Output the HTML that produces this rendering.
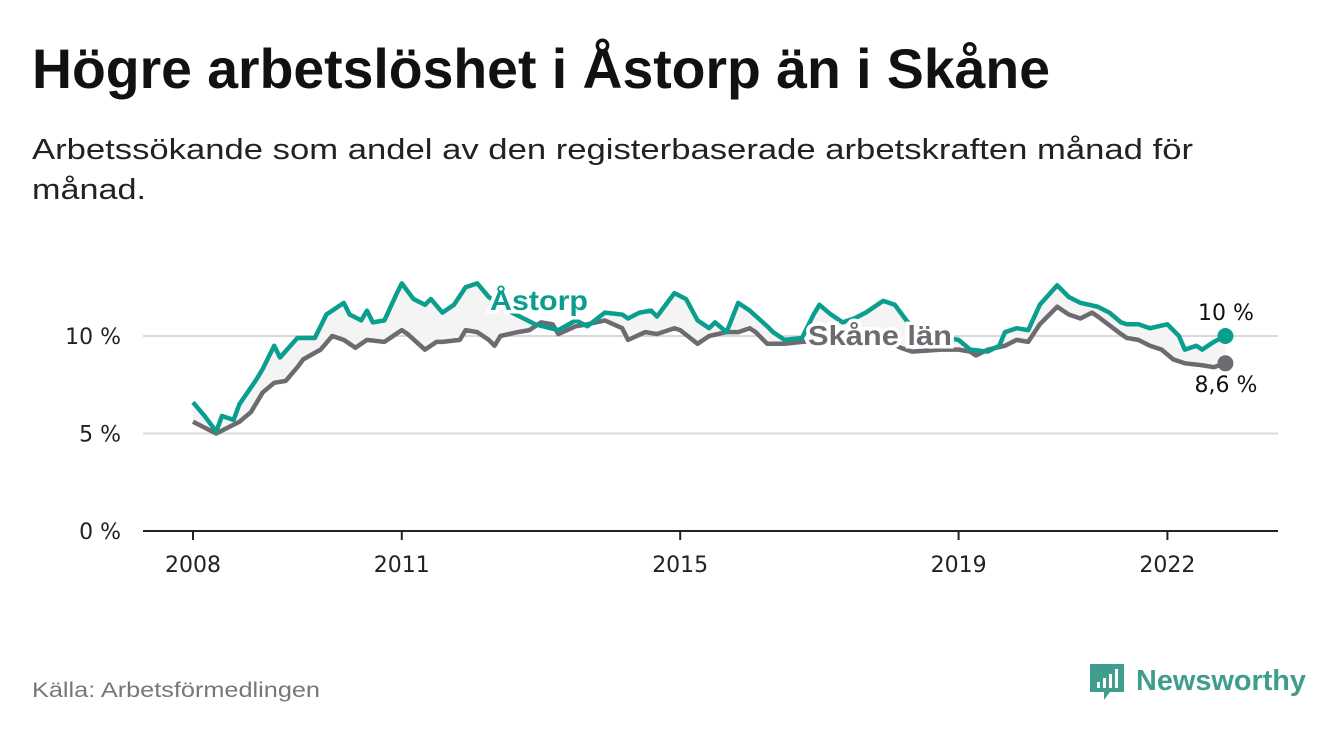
<!DOCTYPE html>
<html><head><meta charset="utf-8"><style>
body{margin:0;width:1340px;height:734px;background:#fff;overflow:hidden;font-family:"Liberation Sans",sans-serif;}
svg{position:absolute;left:0;top:0}
</style></head><body>
<svg width="1340" height="734">
<text x="32" y="88" font-size="56" font-weight="bold" fill="#111" textLength="1018" lengthAdjust="spacingAndGlyphs">Högre arbetslöshet i Åstorp än i Skåne</text>
<text x="32" y="159" font-size="29" fill="#222" textLength="1161" lengthAdjust="spacingAndGlyphs">Arbetssökande som andel av den registerbaserade arbetskraften månad för</text>
<text x="32" y="199" font-size="29" fill="#222" textLength="114" lengthAdjust="spacingAndGlyphs">månad.</text>
<g id="grid"></g>
<g id="plot"></g>
<text x="32" y="697" font-size="21" fill="#777" textLength="288" lengthAdjust="spacingAndGlyphs">Källa: Arbetsförmedlingen</text>
<g>
<path d="M1090 664 h34 v28 h-14 l-6 8 v-8 h-14 z" fill="#3f9d8f"/>
<rect x="1097" y="682" width="3" height="6" fill="#fff"/><rect x="1103" y="678" width="3" height="10" fill="#fff"/><rect x="1109" y="674" width="3" height="14" fill="#fff"/><rect x="1115" y="669" width="3" height="19" fill="#fff"/>
<text x="1136" y="690" font-size="29" font-weight="bold" fill="#3f9d8f" textLength="170" lengthAdjust="spacingAndGlyphs">Newsworthy</text>
</g>
</svg>
<script>
const astMonths=[0,2,4,5,7,8,11,12,14,15,18,21,23,26,27,29,30,31,33,35,36,38,40,41,43,45,47,49,51,55,59,63,66,68,71,74,75,77,79,80,83,85,87,89,90,92,94,96,99,100,102,105,107,108,110,112,114,116,118,119,121,123,125,128,132,134,137,139,140,142,144,146,149,151,153,156,158,160,161,163,165,168,170,171,173,174,176,178];
const astValues=[6.6,5.9,5.1,5.9,5.7,6.5,7.8,8.3,9.5,8.9,9.9,9.9,11.1,11.7,11.1,10.8,11.3,10.7,10.8,12.1,12.7,11.9,11.6,11.9,11.2,11.6,12.5,12.7,12.0,11.2,10.6,10.3,10.8,10.5,11.2,11.1,10.9,11.2,11.3,11.0,12.2,11.9,10.8,10.4,10.7,10.2,11.7,11.3,10.5,10.2,9.8,9.9,11.1,11.6,11.1,10.7,10.9,11.2,11.6,11.8,11.6,10.8,10.2,10.0,9.8,9.3,9.2,9.5,10.2,10.4,10.3,11.6,12.6,12.0,11.7,11.5,11.2,10.7,10.6,10.6,10.4,10.6,10.0,9.3,9.5,9.3,9.7,10.0];
const skMonths=[0,2,4,6,8,10,12,14,16,18,19,22,24,26,28,30,33,36,37,40,42,43,46,47,49,51,52,53,56,58,60,62,63,66,68,71,74,75,78,80,83,84,87,89,92,94,96,97,99,102,105,110,115,120,122,124,129,132,134,135,137,140,142,144,146,149,151,153,155,156,160,161,163,165,167,169,171,174,176,178];
const skValues=[5.6,5.3,5.0,5.3,5.6,6.1,7.1,7.6,7.7,8.4,8.8,9.3,10.0,9.8,9.4,9.8,9.7,10.3,10.1,9.3,9.7,9.7,9.8,10.3,10.2,9.8,9.5,10.0,10.2,10.3,10.7,10.6,10.1,10.5,10.6,10.8,10.4,9.8,10.2,10.1,10.4,10.3,9.6,10.0,10.2,10.2,10.4,10.2,9.6,9.6,9.7,9.8,9.6,9.7,9.4,9.2,9.3,9.3,9.2,9.0,9.3,9.5,9.8,9.7,10.6,11.5,11.1,10.9,11.2,11.0,10.1,9.9,9.8,9.5,9.3,8.8,8.6,8.5,8.4,8.6];
const yTicks=[0,5,10];
const yTickLabels=["0 %","5 %","10 %"];
const xTickYears=[2008,2011,2015,2019,2022];
const NS="http://www.w3.org/2000/svg";
const SMALL='"DejaVu Sans",sans-serif';
const X=m=>193+m*5.8, Y=v=>531-v*19.5;
const grid=document.getElementById('grid'), plot=document.getElementById('plot');
function mk(tag,attrs,parent){const e=document.createElementNS(NS,tag);for(const k in attrs)e.setAttribute(k,attrs[k]);parent.appendChild(e);return e;}
yTicks.forEach((t,i)=>{
  if(t>0){const l=mk('line',{x1:143,x2:1278,y1:Y(t),y2:Y(t),stroke:'#d9d9d9','stroke-width':2},grid);
  
  }
  const tx=mk('text',{x:121,y:Y(t)+8,'text-anchor':'end','font-size':22,fill:'#222','font-family':SMALL},grid);
  tx.textContent=yTickLabels[i];
  
  
});
const ax=mk('line',{x1:143,x2:1278,y1:531,y2:531,stroke:'#222','stroke-width':2},grid);


xTickYears.forEach(yr=>{
  const x=X((yr-2008)*12);
  mk('line',{x1:x,x2:x,y1:531,y2:540,stroke:'#222','stroke-width':2},grid);
  const tx=mk('text',{x:x,y:572,'text-anchor':'middle','font-size':22,fill:'#222','font-family':SMALL},grid);
  tx.textContent=yr;
  
  
});
const ap=astMonths.map((m,i)=>X(m)+','+Y(astValues[i]));
const sp=skMonths.map((m,i)=>X(m)+','+Y(skValues[i]));
const area=mk('polygon',{points:ap.concat(sp.slice().reverse()).join(' '),fill:'#f4f4f4'},plot);


const sl=mk('polyline',{points:sp.join(' '),fill:'none',stroke:'#6d6b70','stroke-width':4.5,'stroke-linejoin':'round'},plot);


const al=mk('polyline',{points:ap.join(' '),fill:'none',stroke:'#0a9e8f','stroke-width':4.5,'stroke-linejoin':'round'},plot);


const lastA=astValues.length-1, lastS=skValues.length-1;
const d1=mk('circle',{cx:X(astMonths[lastA]),cy:Y(astValues[lastA]),r:8,fill:'#0a9e8f'},plot);


const d2=mk('circle',{cx:X(skMonths[lastS]),cy:Y(skValues[lastS]),r:8,fill:'#6d6b70'},plot);


function label(txt,x,y,opts,name){const t=mk('text',Object.assign({x:x,y:y},opts),plot);t.textContent=txt;

return t;}
label('Åstorp',490,310,{'font-size':28,'font-weight':'bold',fill:'#0a9e8f',stroke:'#fff','stroke-width':7,'paint-order':'stroke',textLength:98,lengthAdjust:'spacingAndGlyphs'},'astorp-series-label');
label('Skåne län',808,345,{'font-size':28,'font-weight':'bold',fill:'#6d6b70',stroke:'#fff','stroke-width':7,'paint-order':'stroke',textLength:144,lengthAdjust:'spacingAndGlyphs'},'skane-series-label');
label('10 %',1226,320,{'font-size':22,fill:'#111','text-anchor':'middle','font-family':SMALL},'astorp-end-value');
label('8,6 %',1226,392,{'font-size':22,fill:'#111','text-anchor':'middle','font-family':SMALL},'skane-end-value');
</script>
</body></html>
